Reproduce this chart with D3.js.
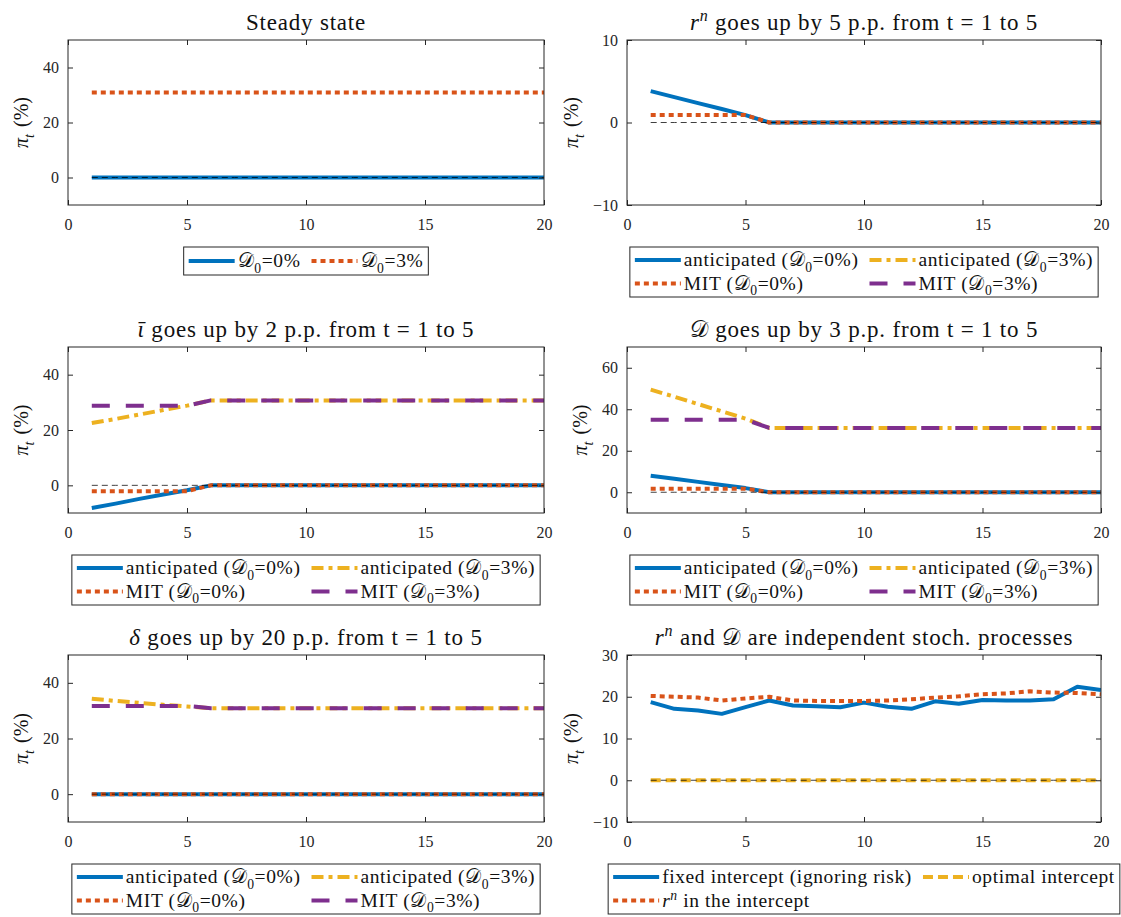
<!DOCTYPE html>
<html>
<head>
<meta charset="utf-8">
<script src="https://cdn.jsdelivr.net/npm/d3@7"></script>
<style>
  body { margin: 0; background: #fff; }
  svg { display: block; }
</style>
</head>
<body>
<svg id="fig" width="1121" height="917" font-family="'Liberation Serif', 'DejaVu Serif', serif"></svg>
<script>
// ---- time axis ----
const periods = [1,2,3,4,5,6,7,8,9,10,11,12,13,14,15,16,17,18,19,20];
const xTicks = [0, 5, 10, 15, 20];

// ---- steady state ----
const ssD0 = [0,0,0,0,0,0,0,0,0,0,0,0,0,0,0,0,0,0,0,0];
const ssD3 = [30.9,30.9,30.9,30.9,30.9,30.9,30.9,30.9,30.9,30.9,30.9,30.9,30.9,30.9,30.9,30.9,30.9,30.9,30.9,30.9];

// ---- r^n shock ----
const rnAnticD0 = [3.8,3.08,2.35,1.63,0.9,0,0,0,0,0,0,0,0,0,0,0,0,0,0,0];
const rnMitD0   = [0.9,0.9,0.9,0.9,0.9,0,0,0,0,0,0,0,0,0,0,0,0,0,0,0];

// ---- iota-bar shock ----
const iotaAnticD0 = [-8.2,-6.6,-4.9,-3.3,-1.8,0,0,0,0,0,0,0,0,0,0,0,0,0,0,0];
const iotaMitD0   = [-2.1,-2.1,-2.1,-2.1,-2.1,0,0,0,0,0,0,0,0,0,0,0,0,0,0,0];
const iotaAnticD3 = [22.5,24.0,25.6,27.2,28.8,30.7,30.7,30.7,30.7,30.7,30.7,30.7,30.7,30.7,30.7,30.7,30.7,30.7,30.7,30.7];
const iotaMitD3   = [28.8,28.8,28.8,28.8,28.8,30.7,30.7,30.7,30.7,30.7,30.7,30.7,30.7,30.7,30.7,30.7,30.7,30.7,30.7,30.7];

// ---- D shock ----
const dAnticD0 = [8.0,6.5,5.0,3.5,2.0,0,0,0,0,0,0,0,0,0,0,0,0,0,0,0];
const dMitD0   = [1.7,1.7,1.7,1.7,1.7,0,0,0,0,0,0,0,0,0,0,0,0,0,0,0];
const dAnticD3 = [49.5,46.0,42.5,39.0,35.5,31.0,31.0,31.0,31.0,31.0,31.0,31.0,31.0,31.0,31.0,31.0,31.0,31.0,31.0,31.0];
const dMitD3   = [35.0,35.0,35.0,35.0,35.0,31.0,31.0,31.0,31.0,31.0,31.0,31.0,31.0,31.0,31.0,31.0,31.0,31.0,31.0,31.0];

// ---- delta shock ----
const delAnticD0 = [0,0,0,0,0,0,0,0,0,0,0,0,0,0,0,0,0,0,0,0];
const delMitD0   = [0,0,0,0,0,0,0,0,0,0,0,0,0,0,0,0,0,0,0,0];
const delAnticD3 = [34.3,33.5,32.8,32.1,31.5,30.9,30.9,30.9,30.9,30.9,30.9,30.9,30.9,30.9,30.9,30.9,30.9,30.9,30.9,30.9];
const delMitD3   = [31.7,31.7,31.7,31.7,31.7,30.9,30.9,30.9,30.9,30.9,30.9,30.9,30.9,30.9,30.9,30.9,30.9,30.9,30.9,30.9];

// ---- stochastic simulation ----
const stFixed   = [18.7,17.1,16.7,15.9,17.5,19.1,17.9,17.7,17.5,18.6,17.6,17.1,18.9,18.3,19.2,19.1,19.1,19.4,22.4,21.6];
const stOptimal = [0,0,0,0,0,0,0,0,0,0,0,0,0,0,0,0,0,0,0,0];
const stRn      = [20.2,20.0,19.8,19.1,19.6,20.0,19.1,19.0,19.0,19.0,19.1,19.4,19.8,20.1,20.6,20.8,21.3,21.0,20.9,20.6];

// ---- text pieces: [string, flags] ----
const D = "\u{1D49F}";
const labAntic0 = [["anticipated ("],[D],["0","sub"],["=0%)"]];
const labAntic3 = [["anticipated ("],[D],["0","sub"],["=3%)"]];
const labMit0   = [["MIT ("],[D],["0","sub"],["=0%)"]];
const labMit3   = [["MIT ("],[D],["0","sub"],["=3%)"]];

// ---- line styles ----
const STY = {
  blue:   { color: "#0072BD", dash: null },
  yellow: { color: "#EDB120", dash: "12,5,4,5" },
  red:    { color: "#D95319", dash: "5,4" },
  purple: { color: "#7E2F8E", dash: "18,16" },
  yelDash:{ color: "#EDB120", dash: "10,5" }
};
const LW = 4;

const shockLegend = [
  { sty: "blue", label: labAntic0 }, { sty: "yellow", label: labAntic3 },
  { sty: "red", label: labMit0 },    { sty: "purple", label: labMit3 }
];

const panels = [
  { col: 0, row: 0, title: [["Steady state"]], ylim: [-10, 50], yticks: [0, 20, 40],
    series: [{ y: ssD0, sty: "blue" }, { y: ssD3, sty: "red" }],
    legend: [{ sty: "blue", label: [[D],["0","sub"],["=0%"]] }, { sty: "red", label: [[D],["0","sub"],["=3%"]] }] },
  { col: 1, row: 0, title: [["r","i"],["n","isup"],[" goes up by 5 p.p. from t = 1 to 5"]], ylim: [-10, 10], yticks: [-10, 0, 10],
    series: [{ y: rnAnticD0, sty: "blue" }, { y: rnMitD0, sty: "red" }],
    legend: shockLegend },
  { col: 0, row: 1, title: [["\u03B9\u0304","i"],[" goes up by 2 p.p. from t = 1 to 5"]], ylim: [-10, 50], yticks: [0, 20, 40],
    series: [{ y: iotaAnticD0, sty: "blue" }, { y: iotaAnticD3, sty: "yellow" }, { y: iotaMitD0, sty: "red" }, { y: iotaMitD3, sty: "purple" }],
    legend: shockLegend },
  { col: 1, row: 1, title: [[D],[" goes up by 3 p.p. from t = 1 to 5"]], ylim: [-10, 70], yticks: [0, 20, 40, 60],
    series: [{ y: dAnticD0, sty: "blue" }, { y: dAnticD3, sty: "yellow" }, { y: dMitD0, sty: "red" }, { y: dMitD3, sty: "purple" }],
    legend: shockLegend },
  { col: 0, row: 2, title: [["\u03B4","i"],[" goes up by 20 p.p. from t = 1 to 5"]], ylim: [-10, 50], yticks: [0, 20, 40],
    series: [{ y: delAnticD0, sty: "blue" }, { y: delAnticD3, sty: "yellow" }, { y: delMitD0, sty: "red" }, { y: delMitD3, sty: "purple" }],
    legend: shockLegend },
  { col: 1, row: 2, title: [["r","i"],["n","isup"],[" and "],[D],[" are independent stoch. processes"]], ylim: [-10, 30], yticks: [-10, 0, 10, 20, 30],
    series: [{ y: stFixed, sty: "blue" }, { y: stOptimal, sty: "yelDash" }, { y: stRn, sty: "red" }],
    legend: [{ sty: "blue", label: [["fixed intercept (ignoring risk)"]] }, { sty: "yelDash", label: [["optimal intercept"]] },
             { sty: "red", label: [["r","i"],["n","isup"],[" in the intercept"]] }] }
];

// ---- layout ----
const COLX = [[68, 544], [627, 1101]];
const ROWY = [[40, 205], [347, 513], [655, 822]];
const FS_TITLE = 23, FS_TICK = 16, FS_LEG = 19.5, FS_YLAB = 20;
const LS_TITLE = 0.8, LS_LEG = 0.6;
const FONT = "'Liberation Serif', 'DejaVu Serif', serif";
const AXC = "#262626";
const TXC = "#111";

const svg = d3.select("#fig");

function rich(textSel, segs, size) {
  textSel.attr("font-family", FONT).attr("fill", TXC);
  let shift = 0;
  segs.forEach(([txt, flags = "", dx = 0]) => {
    const ts = textSel.append("tspan").text(txt).attr("font-family", FONT);
    let target = 0;
    if (flags.includes("sub")) target = size * 0.28;
    if (flags.includes("sup")) target = -size * 0.38;
    ts.attr("dy", target - shift);
    if (dx) ts.attr("dx", dx);
    shift = target;
    if (flags.includes("sub") || flags.includes("sup")) ts.attr("font-size", size * 0.7);
    if (flags.startsWith("i")) ts.attr("font-style", "italic");
  });
}

panels.forEach((p, idx) => {
  const [x0, x1] = COLX[p.col];
  const [y0, y1] = ROWY[p.row];
  const x = d3.scaleLinear().domain([0, 20]).range([x0, x1]);
  const y = d3.scaleLinear().domain(p.ylim).range([y1, y0]);
  const g = svg.append("g").attr("font-family", FONT);

  // clip region of the axes
  const cid = "clip" + idx;
  svg.append("clipPath").attr("id", cid).append("rect")
    .attr("x", x0).attr("y", y0).attr("width", x1 - x0).attr("height", y1 - y0);

  // title
  const tt = g.append("text").attr("x", (x0 + x1) / 2).attr("y", y0 - 10)
    .attr("text-anchor", "middle").attr("font-size", FS_TITLE).attr("letter-spacing", LS_TITLE);
  rich(tt, p.title, FS_TITLE);

  // series
  const line = d3.line().x((d, i) => x(periods[i])).y(d => y(d));
  const lines = g.append("g").attr("clip-path", `url(#${cid})`);
  p.series.forEach(s => {
    const st = STY[s.sty];
    lines.append("path").datum(s.y).attr("d", line)
      .attr("fill", "none").attr("stroke", st.color).attr("stroke-width", LW)
      .attr("stroke-linejoin", "round")
      .attr("stroke-dasharray", st.dash);
  });
  // zero reference
  lines.append("path").datum(periods.map(() => 0)).attr("d", line)
    .attr("fill", "none").attr("stroke", "#000").attr("stroke-width", 1)
    .attr("stroke-opacity", 0.75).attr("stroke-dasharray", "6,4");

  // axes: bottom/top/left/right with inward ticks
  const ax = g.append("g").attr("color", AXC);
  const tickLen = 5;
  const xb = ax.append("g").attr("transform", `translate(0,${y1})`)
    .call(d3.axisBottom(x).tickValues(xTicks).tickSize(-tickLen).tickPadding(10));
  const xt = ax.append("g").attr("transform", `translate(0,${y0})`)
    .call(d3.axisTop(x).tickValues(xTicks).tickSize(-tickLen).tickFormat(""));
  const yl = ax.append("g").attr("transform", `translate(${x0},0)`)
    .call(d3.axisLeft(y).tickValues(p.yticks).tickSize(-tickLen).tickPadding(9));
  const yr = ax.append("g").attr("transform", `translate(${x1},0)`)
    .call(d3.axisRight(y).tickValues(p.yticks).tickSize(-tickLen).tickFormat(""));
  [xb, xt, yl, yr].forEach(a => {
    a.select(".domain").remove();
    a.attr("font-family", FONT);
    a.selectAll("text").attr("font-size", FS_TICK).attr("font-family", FONT).attr("fill", AXC);
  });
  xb.selectAll("text").attr("dy", "0.95em");
  g.append("rect").attr("x", x0).attr("y", y0).attr("width", x1 - x0).attr("height", y1 - y0)
    .attr("fill", "none").attr("stroke", AXC).attr("stroke-width", 1);

  // y label
  const maxTickW = d3.max(yl.selectAll("text").nodes(), n => n.getComputedTextLength());
  const ylx = x0 - 9 - maxTickW - 15;
  const yt = g.append("text").attr("transform", `translate(${ylx},${(y0 + y1) / 2}) rotate(-90)`)
    .attr("text-anchor", "middle").attr("font-size", FS_YLAB);
  rich(yt, [["\u03C0","i"],["t","isub"],["(%)","",7]], FS_YLAB);

  // legend
  const items = p.legend;
  const ncol = 2;
  const nrow = Math.ceil(items.length / ncol);
  const sampleLen = 46, pad = 5, gapT = 3, colGap = 11;
  const lg = g.append("g");
  const box = lg.append("rect");
  const texts = items.map(it => {
    const t = lg.append("text").attr("font-size", FS_LEG).attr("letter-spacing", LS_LEG);
    rich(t, it.label, FS_LEG);
    return t;
  });
  const widths = texts.map(t => t.node().getComputedTextLength());
  const colW = [0, 1].map(c => d3.max(items.map((_, k) => (k % ncol === c ? widths[k] : 0))));
  const totalW = pad * 2 + colW.reduce((a, w) => a + sampleLen + gapT + w, 0) + colGap * (ncol - 1);
  const lx = (x0 + x1) / 2 - totalW / 2;
  const ly = y1 + 42;
  const boxH = nrow === 1 ? 28 : 50;
  const rowC = nrow === 1 ? [14] : [13, 36.5];
  box.attr("x", lx).attr("y", ly).attr("width", totalW).attr("height", boxH)
    .attr("fill", "#fff").attr("stroke", AXC).attr("stroke-width", 1);
  items.forEach((it, k) => {
    const c = k % ncol, r = Math.floor(k / ncol);
    const cx = lx + pad + (c === 0 ? 0 : sampleLen + gapT + colW[0] + colGap);
    const cy = ly + rowC[r];
    const st = STY[it.sty];
    lg.append("line").attr("x1", cx).attr("x2", cx + sampleLen).attr("y1", cy).attr("y2", cy)
      .attr("stroke", st.color).attr("stroke-width", LW).attr("stroke-dasharray", st.dash);
    texts[k].attr("x", cx + sampleLen + gapT).attr("y", cy).attr("dy", null);
    texts[k].attr("transform", `translate(0,${FS_LEG * 0.33})`);
  });
});
</script>
</body>
</html>
